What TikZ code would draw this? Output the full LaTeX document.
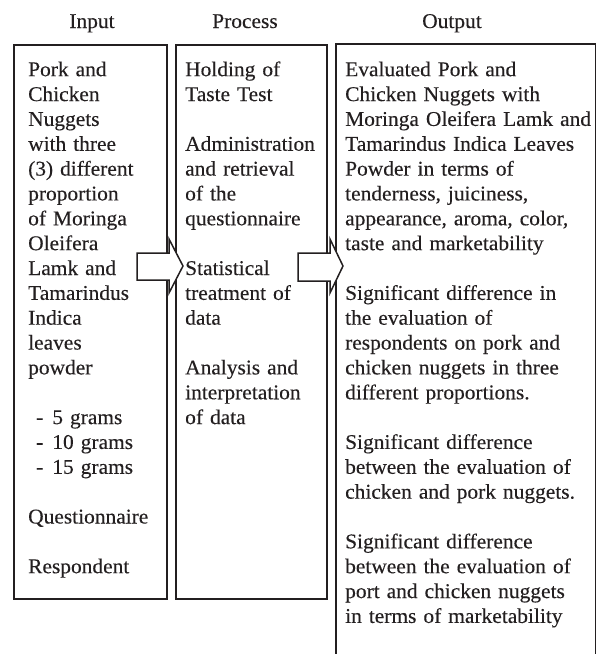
\documentclass[tikz,border=0pt]{standalone}
\usepackage{fontspec}
\setmainfont{Liberation Serif}[FakeStretch=1.02,FakeBold=0.2]
\definecolor{ink}{RGB}{35,31,32}
\newcommand{\firstline}{\rule{0pt}{18pt}}
\newcommand{\gap}{\\[24.85pt]}
\newcommand{\bul}[1]{\hspace*{8pt}-\hspace*{9pt}#1}
\begin{document}
\begin{tikzpicture}[x=1pt,y=-1pt,
  panel/.style={draw=ink, line width=1.8pt, inner sep=0pt, anchor=north west},
  openpanel/.style={inner sep=0pt, anchor=north west},
  outline/.style={draw=ink, line width=1.8pt, line join=miter},
  body/.style={anchor=north west, inner sep=0pt, align=left, text width=255pt, text=ink,
    font={\setlength{\parindent}{0pt}\fontsize{21}{24.85}\selectfont}},
  head/.style={anchor=base, inner sep=0pt, text=ink, font=\fontsize{21}{25}\selectfont},
  blockarrow/.style={draw=ink, line width=1.5pt, fill=white, line join=miter}]
\useasboundingbox (0,0) rectangle (600,654);
\fill[white] (0,0) rectangle (600,654);

% headers
\node[head] (hin) at (92,28) {Input};
\node[head] (hproc) at (245,28) {Process};
\node[head] (hout) at (452,28) {Output};

% boxes
\node[panel, minimum width=153pt, minimum height=554pt] (inbox) at (13,44) {};
\node[panel, minimum width=151pt, minimum height=554pt] (procbox) at (175,44) {};
\node[openpanel, minimum width=259pt, minimum height=620pt] (outbox) at (336,44) {};
\draw[outline] (outbox.south west) -- (outbox.north west) -- (outbox.north east) -- (outbox.south east);

% texts
\node[body] (intext) at (28,58) {\firstline Pork and\\
Chicken\\
Nuggets\\
with three\\
(3) different\\
proportion\\
of Moringa\\
Oleifera\\
Lamk and\\
Tamarindus\\
Indica\\
leaves\\
powder\gap
\bul{5 grams}\\
\bul{10 grams}\\
\bul{15 grams}\gap
Questionnaire\gap
Respondent};

\node[body] (proctext) at (185,58) {\firstline Holding of\\
Taste Test\gap
Administration\\
and retrieval\\
of the\\
questionnaire\gap
Statistical\\
treatment of\\
data\gap
Analysis and\\
interpretation\\
of data};

\node[body] (outtext) at (345,58) {\firstline Evaluated Pork and\\
Chicken Nuggets with\\
Moringa Oleifera Lamk and\\
Tamarindus Indica Leaves\\
Powder in terms of\\
tenderness, juiciness,\\
appearance, aroma, color,\\
taste and marketability\gap
Significant difference in\\
the evaluation of\\
respondents on pork and\\
chicken nuggets in three\\
different proportions.\gap
Significant difference\\
between the evaluation of\\
chicken and pork nuggets.\gap
Significant difference\\
between the evaluation of\\
port and chicken nuggets\\
in terms of marketability};

% block arrows
\draw[blockarrow] (137,253) -- (169,253) -- (169,239) -- (183,266) -- (169,293) -- (169,280) -- (137,280) -- cycle;
\draw[blockarrow] (298,253) -- (330,253) -- (330,239) -- (343,266) -- (330,293) -- (330,281) -- (298,281) -- cycle;
\end{tikzpicture}
\end{document}
